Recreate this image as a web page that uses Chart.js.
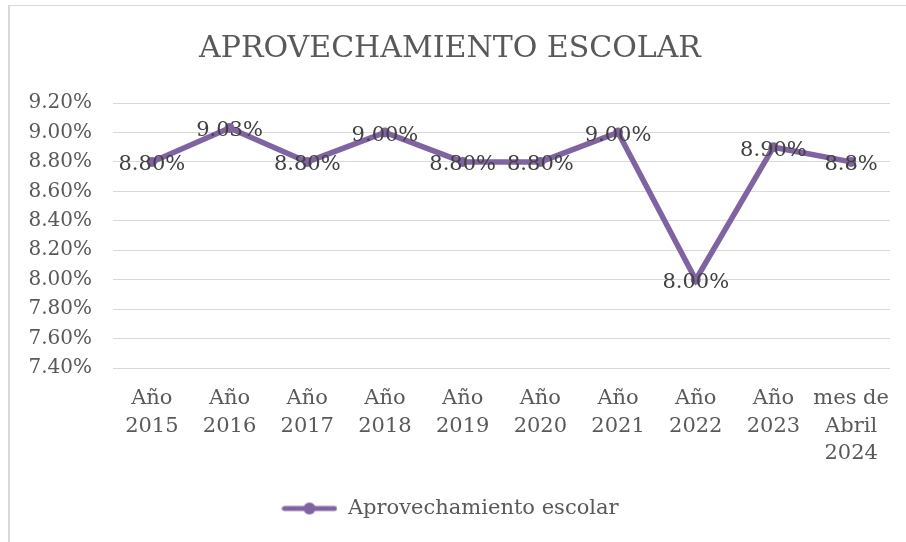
<!DOCTYPE html>
<html>
<head>
<meta charset="utf-8">
<script src="https://cdn.jsdelivr.net/npm/chart.js@4/dist/chart.umd.min.js"></script>
<style>
  body { margin: 0; background: #fff; }
  #box {
    position: absolute; left: 8px; top: 5px;
    width: 896px; height: 536px;
    border-left: 2px solid #d9d9d9; border-top: 1px solid #d9d9d9;
  }
</style>
</head>
<body>
<div id="box"><canvas id="myChart" width="896" height="536"></canvas></div>
<script>
const categories = [
  ["Año", "2015"], ["Año", "2016"], ["Año", "2017"], ["Año", "2018"], ["Año", "2019"],
  ["Año", "2020"], ["Año", "2021"], ["Año", "2022"], ["Año", "2023"], ["mes de", "Abril", "2024"]
];
const values = [8.80, 9.03, 8.80, 9.00, 8.80, 8.80, 9.00, 8.00, 8.90, 8.80];
const valueLabels = ["8.80%", "9.03%", "8.80%", "9.00%", "8.80%", "8.80%", "9.00%", "8.00%", "8.90%", "8.8%"];
const seriesName = "Aprovechamiento escolar";
const chartTitle = "APROVECHAMIENTO ESCOLAR";
const yMin = 7.4, yMax = 9.2, yStep = 0.2;

const purple = "#8064a2";
const fontFamily = "'DejaVu Serif', serif";

// legend marker: line with a dot in the middle
const marker = document.createElement("canvas");
marker.width = 56;
marker.height = 14;
const mctx = marker.getContext("2d");
mctx.strokeStyle = purple;
mctx.lineWidth = 5;
mctx.lineCap = "round";
mctx.beginPath();
mctx.moveTo(3, 7);
mctx.lineTo(53, 7);
mctx.stroke();
mctx.fillStyle = purple;
mctx.beginPath();
mctx.arc(28, 7, 6, 0, Math.PI * 2);
mctx.fill();

const valueLabelPlugin = {
  id: "valueLabels",
  afterDatasetsDraw(chart) {
    const ctx = chart.ctx;
    const meta = chart.getDatasetMeta(0);
    ctx.save();
    ctx.font = "21px " + fontFamily;
    ctx.fillStyle = "#404040";
    ctx.textAlign = "center";
    ctx.textBaseline = "middle";
    meta.data.forEach((pt, i) => {
      ctx.fillText(valueLabels[i], pt.x, pt.y + 3);
    });
    ctx.restore();
  }
};

const ctx = document.getElementById("myChart").getContext("2d");
const chart = new Chart(ctx, {
  type: "line",
  data: {
    labels: categories,
    datasets: [{
      label: seriesName,
      data: values,
      borderColor: purple,
      backgroundColor: purple,
      borderWidth: 5.5,
      pointRadius: 5,
      pointBorderWidth: 0,
      pointBackgroundColor: purple,
      tension: 0
    }]
  },
  options: {
    responsive: false,
    animation: false,
    layout: { padding: { left: 0, right: 16, top: 0, bottom: 13 } },
    plugins: {
      title: {
        display: true,
        text: chartTitle,
        color: "#595959",
        font: { family: fontFamily, size: 30, weight: "normal" },
        padding: { top: 25, bottom: 36 }
      },
      legend: {
        position: "bottom",
        labels: {
          usePointStyle: true,
          pointStyle: marker,
          pointStyleWidth: 56,
          color: "#595959",
          font: { family: fontFamily, size: 21 },
          padding: 10
        }
      },
      tooltip: { enabled: false }
    },
    scales: {
      x: {
        offset: true,
        afterFit(scale) { scale.height += 12; },
        grid: { display: false },
        border: { display: false },
        ticks: {
          color: "#595959",
          font: { family: fontFamily, size: 21, lineHeight: 1.3 },
          maxRotation: 0,
          autoSkip: false,
          padding: 9
        }
      },
      y: {
        min: yMin,
        max: yMax,
        afterFit(scale) { scale.width = 103; },
        grid: { color: "#d9d9d9", lineWidth: 1, drawTicks: false },
        border: { display: false },
        ticks: {
          stepSize: yStep,
          color: "#595959",
          font: { family: fontFamily, size: 20 },
          padding: 21,
          callback: v => v.toFixed(2) + "%"
        }
      }
    }
  },
  plugins: [valueLabelPlugin]
});
</script>
</body>
</html>
